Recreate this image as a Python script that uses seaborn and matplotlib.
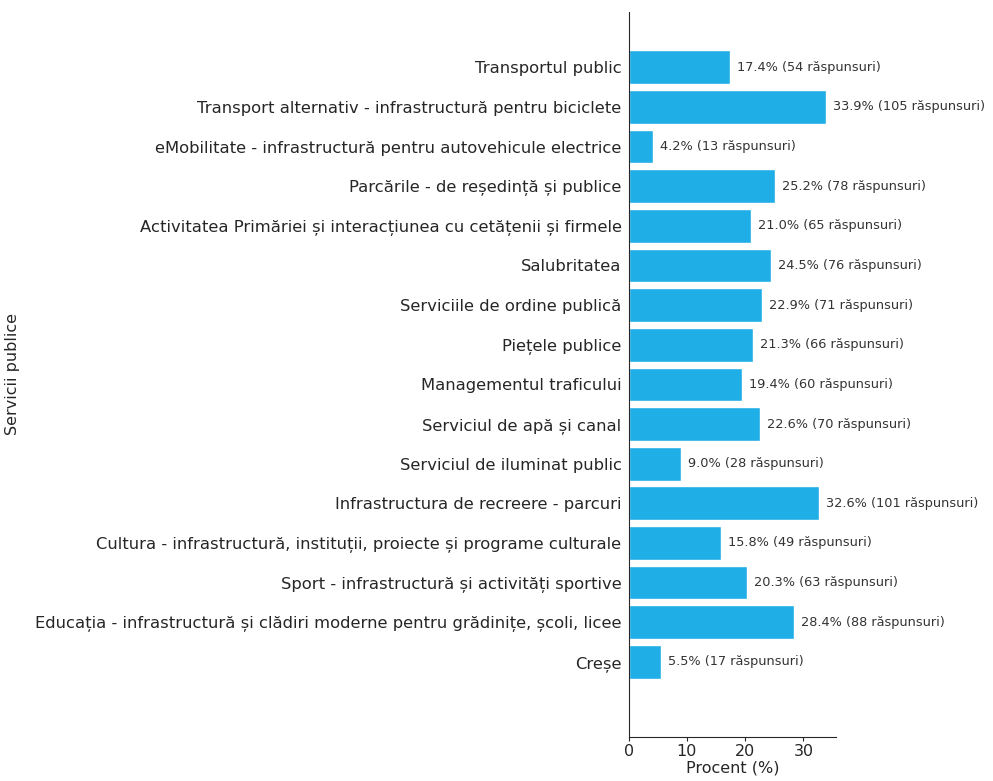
import matplotlib
matplotlib.use("Agg")
import matplotlib.pyplot as plt
import pandas as pd
import seaborn as sns

SERVICES = [
    "Transportul public",
    "Transport alternativ - infrastructură pentru biciclete",
    "eMobilitate - infrastructură pentru autovehicule electrice",
    "Parcările - de reședință și publice",
    "Activitatea Primăriei și interacțiunea cu cetățenii și firmele",
    "Salubritatea",
    "Serviciile de ordine publică",
    "Piețele publice",
    "Managementul traficului",
    "Serviciul de apă și canal",
    "Serviciul de iluminat public",
    "Infrastructura de recreere - parcuri",
    "Cultura - infrastructură, instituții, proiecte și programe culturale",
    "Sport - infrastructură și activități sportive",
    "Educația - infrastructură și clădiri moderne pentru grădinițe, școli, licee",
    "Creșe",
]
PERCENT = [17.4, 33.9, 4.2, 25.2, 21.0, 24.5, 22.9, 21.3, 19.4, 22.6, 9.0, 32.6, 15.8, 20.3, 28.4, 5.5]
RESPONSES = [54, 105, 13, 78, 65, 76, 71, 66, 60, 70, 28, 101, 49, 63, 88, 17]

BAR_COLOR = "#20aee6"

df = pd.DataFrame({"serviciu": SERVICES, "procent": PERCENT, "raspunsuri": RESPONSES})

sns.set_style("ticks")
plt.rcParams["font.family"] = ["DejaVu Sans"]

fig = plt.figure(figsize=(9.93, 7.81), dpi=100)
ax = fig.add_axes([0.633, 0.056, 0.209, 0.929])

sns.barplot(data=df, x="procent", y="serviciu", color=BAR_COLOR,
            saturation=1, width=0.85, ax=ax)

for i, (p, n) in enumerate(zip(PERCENT, RESPONSES)):
    ax.annotate(f"{p:.1f}% ({n} răspunsuri)", xy=(p, i), xytext=(5, 0),
                textcoords="offset points", va="center", ha="left",
                fontsize=9.3, color="#333333")

ax.set_xlim(0, 35.6)
ax.set_ylim(16.9, -1.4)
ax.set_xticks([0, 10, 20, 30])
ax.set_xlabel("Procent (%)", fontsize=11.5, labelpad=1)
ax.set_ylabel("Servicii publice", fontsize=11.5)
ax.yaxis.set_label_coords(-2.93, 0.5)
ax.tick_params(axis="y", labelsize=11.8, length=0, pad=5)
ax.tick_params(axis="x", labelsize=11.5, length=3, pad=2)
sns.despine(ax=ax)

fig.savefig("out.png", dpi=100)
plt.close(fig)
